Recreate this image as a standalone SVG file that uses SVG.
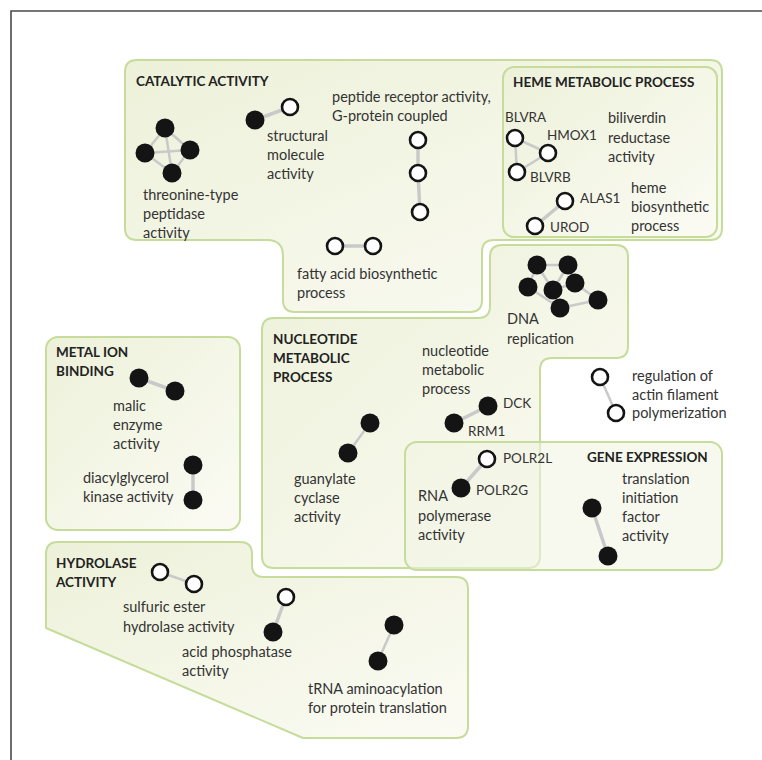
<svg xmlns="http://www.w3.org/2000/svg" width="762" height="760" viewBox="0 0 762 760">
  <defs>
    <linearGradient id="regionFill" x1="0" y1="0" x2="1" y2="1">
      <stop offset="0" stop-color="#edf1d9"/>
      <stop offset="1" stop-color="#fbfbf4"/>
    </linearGradient>
    <style>
      .region { fill: url(#regionFill); stroke: #c5dc9b; stroke-width: 2; stroke-linejoin: round; }
      .overlay { fill: #f1f4e2; fill-opacity: 0.55; stroke: #c5dc9b; stroke-width: 2; }
      .edge { stroke: #c9c9c9; stroke-width: 3.5; stroke-linecap: round; fill: none; }
      .thin { stroke-width: 2.5; }
      .on { fill: #141414; }
      .off { fill: #ffffff; stroke: #141414; stroke-width: 2.6; }
      .lbl { font-family: Lato, "Open Sans", sans-serif; font-size: 14.5px; fill: #333333; }
      .gene { font-family: Lato, "Open Sans", sans-serif; font-size: 13.5px; fill: #333333; }
      .hd { font-family: Lato, "Open Sans", sans-serif; font-size: 13.5px; font-weight: bold; fill: #222222; }
    </style>
  </defs>

  <rect width="762" height="760" fill="#ffffff"/>
  <!-- panel frame (top and left edges) -->
  <path d="M11,760 V11 H762" fill="none" stroke="#4a4a4a" stroke-width="1.6"/>

  <!-- regions -->
  <g id="catalytic-activity">
    <path class="region" d="M137,60 H710 Q722,60 722,72 V228 Q722,240 710,240 H494 Q482,240 482,252 V300 Q482,312 470,312 H295 Q283,312 283,300 V256 Q283,240 267,240 H137 Q125,240 125,228 V72 Q125,60 137,60 Z"/>
    <text class="hd" x="136" y="86">CATALYTIC ACTIVITY</text>
  </g>
  <g id="heme-metabolic-process">
    <rect class="region" x="503" y="67" width="214" height="170" rx="11"/>
    <text class="hd" x="513" y="87">HEME METABOLIC PROCESS</text>
  </g>
  <g id="nucleotide-metabolic-process">
    <path class="region" d="M274,318 H478 Q490,318 490,306 V257 Q490,245 502,245 H616 Q628,245 628,257 V346 Q628,358 616,358 H552 Q540,358 540,370 V556 Q540,568 528,568 H274 Q262,568 262,556 V330 Q262,318 274,318 Z"/>
    <text class="hd" x="273" y="344">NUCLEOTIDE</text>
    <text class="hd" x="273" y="363">METABOLIC</text>
    <text class="hd" x="273" y="382">PROCESS</text>
  </g>
  <g id="gene-expression">
    <rect class="overlay" x="405" y="442" width="317" height="128" rx="12"/>
    <text class="hd" x="587" y="462">GENE EXPRESSION</text>
  </g>
  <g id="metal-ion-binding">
    <rect class="region" x="46" y="337" width="194" height="193" rx="12"/>
    <text class="hd" x="56" y="357">METAL ION</text>
    <text class="hd" x="56" y="376">BINDING</text>
  </g>
  <g id="hydrolase-activity">
    <path class="region" d="M58,542 H240 Q252,542 252,554 V565 Q252,577 264,577 H456 Q468,577 468,589 V726 Q468,738 456,738 H303 L46,628 V554 Q46,542 58,542 Z"/>
    <text class="hd" x="56" y="568">HYDROLASE</text>
    <text class="hd" x="56" y="587">ACTIVITY</text>
  </g>

  <!-- connectors -->
  <g id="connectors">
    <line class="edge thin" x1="165" y1="128" x2="145" y2="153"/>
    <line class="edge thin" x1="165" y1="128" x2="190" y2="150"/>
    <line class="edge thin" x1="165" y1="128" x2="172" y2="173"/>
    <line class="edge thin" x1="145" y1="153" x2="190" y2="150"/>
    <line class="edge thin" x1="145" y1="153" x2="172" y2="173"/>
    <line class="edge thin" x1="190" y1="150" x2="172" y2="173"/>
    <line class="edge" x1="255" y1="120" x2="290" y2="107"/>
    <line class="edge" x1="418" y1="140" x2="418" y2="173"/>
    <line class="edge" x1="418" y1="173" x2="420" y2="212"/>
    <line class="edge" x1="335" y1="246" x2="373" y2="246"/>
    <line class="edge thin" x1="515" y1="138" x2="548" y2="153"/>
    <line class="edge thin" x1="515" y1="138" x2="517" y2="172"/>
    <line class="edge thin" x1="548" y1="153" x2="517" y2="172"/>
    <line class="edge" x1="565" y1="201" x2="535" y2="226"/>
    <line class="edge thin" x1="537" y1="265" x2="568" y2="265"/>
    <line class="edge thin" x1="537" y1="265" x2="528" y2="287"/>
    <line class="edge thin" x1="537" y1="265" x2="553" y2="290"/>
    <line class="edge thin" x1="568" y1="265" x2="575" y2="283"/>
    <line class="edge thin" x1="568" y1="265" x2="553" y2="290"/>
    <line class="edge thin" x1="528" y1="287" x2="560" y2="308"/>
    <line class="edge thin" x1="553" y1="290" x2="575" y2="283"/>
    <line class="edge thin" x1="575" y1="283" x2="598" y2="300"/>
    <line class="edge thin" x1="598" y1="300" x2="560" y2="308"/>
    <line class="edge thin" x1="553" y1="290" x2="560" y2="308"/>
    <line class="edge" x1="488" y1="406" x2="454" y2="423"/>
    <line class="edge thin" x1="600" y1="377" x2="616" y2="413"/>
    <line class="edge thin" x1="370" y1="423" x2="348" y2="453"/>
    <line class="edge" x1="487" y1="459" x2="461" y2="488"/>
    <line class="edge" x1="592" y1="508" x2="608" y2="556"/>
    <line class="edge" x1="139" y1="378" x2="175" y2="391"/>
    <line class="edge" x1="193" y1="465" x2="193" y2="500"/>
    <line class="edge thin" x1="160" y1="572" x2="194" y2="584"/>
    <line class="edge" x1="286" y1="597" x2="273" y2="632"/>
    <line class="edge thin" x1="394" y1="625" x2="378" y2="661"/>
  </g>

  <g id="threonine-type-peptidase">
    <circle class="on" cx="165" cy="128" r="9.5"/>
    <circle class="on" cx="145" cy="153" r="9.5"/>
    <circle class="on" cx="190" cy="150" r="9.5"/>
    <circle class="on" cx="172" cy="173" r="9.5"/>
    <text class="lbl" x="143" y="200">threonine-type</text>
    <text class="lbl" x="143" y="219">peptidase</text>
    <text class="lbl" x="143" y="238">activity</text>
  </g>
  <g id="structural-molecule">
    <circle class="on" cx="255" cy="120" r="9.5"/>
    <circle class="off" cx="290" cy="107" r="8"/>
    <text class="lbl" x="267" y="141">structural</text>
    <text class="lbl" x="267" y="160">molecule</text>
    <text class="lbl" x="267" y="179">activity</text>
  </g>
  <g id="peptide-receptor">
    <circle class="off" cx="418" cy="140" r="8"/>
    <circle class="off" cx="418" cy="173" r="8"/>
    <circle class="off" cx="420" cy="212" r="8"/>
    <text class="lbl" x="332" y="102">peptide receptor activity,</text>
    <text class="lbl" x="332" y="121">G-protein coupled</text>
  </g>
  <g id="fatty-acid-biosynthetic">
    <circle class="off" cx="335" cy="246" r="8"/>
    <circle class="off" cx="373" cy="246" r="8"/>
    <text class="lbl" x="297" y="279">fatty acid biosynthetic</text>
    <text class="lbl" x="297" y="298">process</text>
  </g>
  <g id="biliverdin-reductase">
    <circle class="off" cx="515" cy="138" r="8"/>
    <circle class="off" cx="548" cy="153" r="8"/>
    <circle class="off" cx="517" cy="172" r="8"/>
    <text class="gene" x="505" y="122">BLVRA</text>
    <text class="gene" x="547" y="140">HMOX1</text>
    <text class="gene" x="530" y="182">BLVRB</text>
    <text class="lbl" x="608" y="123">biliverdin</text>
    <text class="lbl" x="608" y="143">reductase</text>
    <text class="lbl" x="608" y="162">activity</text>
  </g>
  <g id="heme-biosynthetic">
    <circle class="off" cx="565" cy="201" r="8"/>
    <circle class="off" cx="535" cy="226" r="8"/>
    <text class="gene" x="580" y="203">ALAS1</text>
    <text class="gene" x="550" y="232">UROD</text>
    <text class="lbl" x="631" y="193">heme</text>
    <text class="lbl" x="631" y="212">biosynthetic</text>
    <text class="lbl" x="631" y="231">process</text>
  </g>
  <g id="dna-replication">
    <circle class="on" cx="537" cy="265" r="9.5"/>
    <circle class="on" cx="568" cy="265" r="9.5"/>
    <circle class="on" cx="528" cy="287" r="9.5"/>
    <circle class="on" cx="553" cy="290" r="9.5"/>
    <circle class="on" cx="575" cy="283" r="9.5"/>
    <circle class="on" cx="598" cy="300" r="9.5"/>
    <circle class="on" cx="560" cy="308" r="9.5"/>
    <text class="lbl" x="507" y="324">DNA</text>
    <text class="lbl" x="507" y="344">replication</text>
  </g>
  <g id="nucleotide-metabolic">
    <circle class="on" cx="488" cy="406" r="9.5"/>
    <circle class="on" cx="454" cy="423" r="9.5"/>
    <text class="gene" x="503" y="408">DCK</text>
    <text class="gene" x="468" y="436">RRM1</text>
    <text class="lbl" x="422" y="356">nucleotide</text>
    <text class="lbl" x="422" y="375">metabolic</text>
    <text class="lbl" x="422" y="394">process</text>
  </g>
  <g id="actin-filament-polymerization">
    <circle class="off" cx="600" cy="377" r="8"/>
    <circle class="off" cx="616" cy="413" r="8"/>
    <text class="lbl" x="632" y="381">regulation of</text>
    <text class="lbl" x="632" y="400">actin filament</text>
    <text class="lbl" x="632" y="418">polymerization</text>
  </g>
  <g id="guanylate-cyclase">
    <circle class="on" cx="370" cy="423" r="9.5"/>
    <circle class="on" cx="348" cy="453" r="9.5"/>
    <text class="lbl" x="294" y="484">guanylate</text>
    <text class="lbl" x="294" y="503">cyclase</text>
    <text class="lbl" x="294" y="522">activity</text>
  </g>
  <g id="rna-polymerase">
    <circle class="off" cx="487" cy="459" r="8"/>
    <circle class="on" cx="461" cy="488" r="9.5"/>
    <text class="gene" x="503" y="463">POLR2L</text>
    <text class="gene" x="476" y="495">POLR2G</text>
    <text class="lbl" x="418" y="501">RNA</text>
    <text class="lbl" x="418" y="521">polymerase</text>
    <text class="lbl" x="418" y="540">activity</text>
  </g>
  <g id="translation-initiation">
    <circle class="on" cx="592" cy="508" r="9.5"/>
    <circle class="on" cx="608" cy="556" r="9.5"/>
    <text class="lbl" x="622" y="484">translation</text>
    <text class="lbl" x="622" y="503">initiation</text>
    <text class="lbl" x="622" y="522">factor</text>
    <text class="lbl" x="622" y="541">activity</text>
  </g>
  <g id="malic-enzyme">
    <circle class="on" cx="139" cy="378" r="9.5"/>
    <circle class="on" cx="175" cy="391" r="9.5"/>
    <text class="lbl" x="113" y="411">malic</text>
    <text class="lbl" x="113" y="430">enzyme</text>
    <text class="lbl" x="113" y="449">activity</text>
  </g>
  <g id="diacylglycerol-kinase">
    <circle class="on" cx="193" cy="465" r="9.5"/>
    <circle class="on" cx="193" cy="500" r="9.5"/>
    <text class="lbl" x="83" y="483">diacylglycerol</text>
    <text class="lbl" x="83" y="502">kinase activity</text>
  </g>
  <g id="sulfuric-ester-hydrolase">
    <circle class="off" cx="160" cy="572" r="8"/>
    <circle class="off" cx="194" cy="584" r="8"/>
    <text class="lbl" x="123" y="612">sulfuric ester</text>
    <text class="lbl" x="123" y="632">hydrolase activity</text>
  </g>
  <g id="acid-phosphatase">
    <circle class="off" cx="286" cy="597" r="8"/>
    <circle class="on" cx="273" cy="632" r="9.5"/>
    <text class="lbl" x="182" y="657">acid phosphatase</text>
    <text class="lbl" x="182" y="676">activity</text>
  </g>
  <g id="trna-aminoacylation">
    <circle class="on" cx="394" cy="625" r="9.5"/>
    <circle class="on" cx="378" cy="661" r="9.5"/>
    <text class="lbl" x="308" y="694">tRNA aminoacylation</text>
    <text class="lbl" x="308" y="713">for protein translation</text>
  </g>
</svg>
